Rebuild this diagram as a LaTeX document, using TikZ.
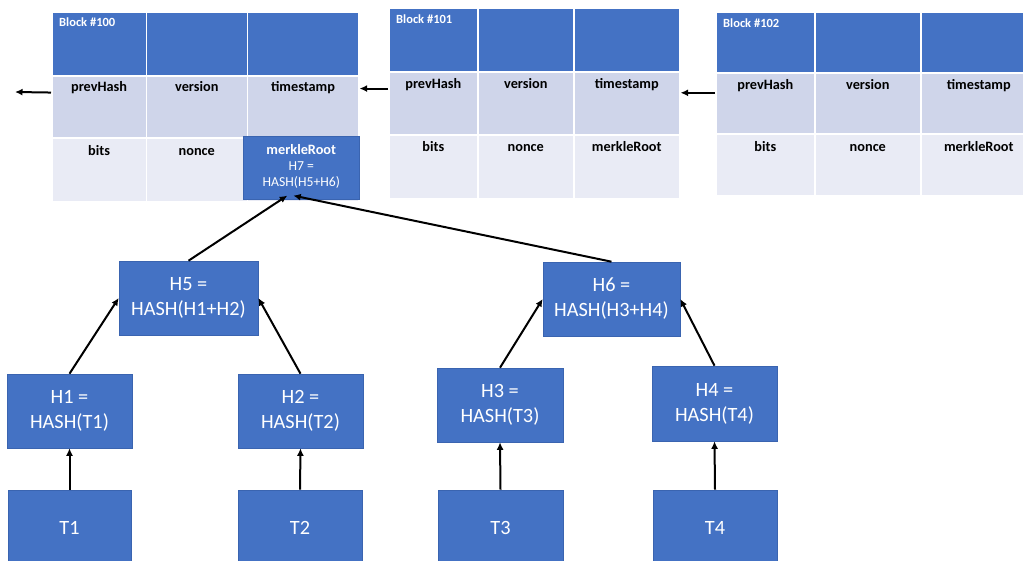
\documentclass[tikz,border=0pt]{standalone}
\usepackage{fontspec}
\setmainfont{Carlito}
\usetikzlibrary{arrows.meta,calc}
\definecolor{hdrblue}{HTML}{4472C4}
\definecolor{rowmid}{HTML}{CFD5EA}
\definecolor{rowlow}{HTML}{E9EBF5}
\definecolor{edgeblue}{HTML}{3A64B0}
\tikzset{
  cell/.style={rectangle, draw=white, line width=1.6pt, inner sep=0pt, anchor=north west},
  hdrcell/.style={cell, fill=hdrblue},
  midcell/.style={cell, fill=rowmid},
  lowcell/.style={cell, fill=rowlow},
  blocklbl/.style={font=\fontsize{12.5}{14}\selectfont\bfseries, text=white, anchor=base west, inner sep=0pt},
  fieldlbl/.style={font=\fontsize{14.3}{16}\selectfont\bfseries, text=black, anchor=base, inner sep=0pt},
  hashbox/.style={rectangle, fill=hdrblue, draw=edgeblue, line width=0.6pt, inner sep=0pt,
    text=white, align=center, font=\fontsize{20.3}{25}\selectfont},
  arr/.style={-{Latex[length=7.5pt,width=7pt]}, line width=2pt, black},
}
% one block header: #1 name prefix, #2..#5 column edges, #6..#9 row edges
\newcommand{\blockgrid}[9]{%
  \node[hdrcell, minimum width=#3-#2, minimum height=#7-#6] (#1h1) at (#2,#6) {};
  \node[hdrcell, minimum width=#4-#3, minimum height=#7-#6] (#1h2) at (#3,#6) {};
  \node[hdrcell, minimum width=#5-#4, minimum height=#7-#6] (#1h3) at (#4,#6) {};
  \node[midcell, minimum width=#3-#2, minimum height=#8-#7] (#1pv) at (#2,#7) {};
  \node[midcell, minimum width=#4-#3, minimum height=#8-#7] (#1ve) at (#3,#7) {};
  \node[midcell, minimum width=#5-#4, minimum height=#8-#7] (#1ts) at (#4,#7) {};
  \node[lowcell, minimum width=#3-#2, minimum height=#9-#8] (#1bi) at (#2,#8) {};
  \node[lowcell, minimum width=#4-#3, minimum height=#9-#8] (#1no) at (#3,#8) {};
  \node[lowcell, minimum width=#5-#4, minimum height=#9-#8] (#1mr) at (#4,#8) {};
  \node[fieldlbl] at ([yshift=-17pt]#1pv.north) {prevHash};
  \node[fieldlbl] at ([yshift=-17pt]#1ve.north) {version};
  \node[fieldlbl] at ([yshift=-17pt]#1ts.north) {timestamp};
  \node[fieldlbl] at ([yshift=-18pt]#1bi.north) {bits};
  \node[fieldlbl] at ([yshift=-18pt]#1no.north) {nonce};
}
\begin{document}
\begin{tikzpicture}[x=1pt,y=-1pt]
\clip (0,0) rectangle (1023,561);
\fill[white] (0,0) rectangle (1023,561);

% ---- block headers ----
\blockgrid{a}{51}{145.5}{246.5}{358}{11}{75}{137.5}{201}
\node[blocklbl] at (59,27) {Block \#100};
\node[rectangle, fill=hdrblue, draw=edgeblue, line width=0.6pt, inner sep=0pt,
  minimum width=116pt, minimum height=63pt, anchor=north west] (root) at (243,136) {};
\node[text=white, align=center, inner sep=0pt, anchor=north,
  font=\fontsize{13.7}{16}\selectfont] at ([yshift=-8pt]root.north)
  {\textbf{\fontsize{14.3}{16}\selectfont merkleRoot}\\H7 =\\HASH(H5+H6)};

\blockgrid{b}{388}{477}{573}{679}{7}{71.5}{134}{198}
\node[blocklbl] at (396,24) {Block \#101};
\node[fieldlbl] at ([yshift=-18pt]bmr.north) {merkleRoot};

\blockgrid{c}{715}{814}{920}{1036}{11}{72.5}{133.5}{195}
\node[blocklbl] at (723,28) {Block \#102};
\node[fieldlbl] at ([yshift=-18pt]cmr.north) {merkleRoot};

% ---- chain links ----
\coordinate (prevA) at (15,92);
\draw[arr] ([yshift=14.5pt]apv.west) -- (prevA);
\draw[arr] ([yshift=15pt]bpv.west) -- ([yshift=15pt]bpv.west -| ats.east);
\draw[arr] ([yshift=11pt]cpv.west) -- ([yshift=11pt]cpv.west -| bts.east);

% ---- merkle tree ----
\node[hashbox, minimum width=139pt, minimum height=74pt] (h5) at (188.5,298) {H5 =\\HASH(H1+H2)};
\node[hashbox, minimum width=137pt, minimum height=74pt] (h6) at (611.5,299) {H6 =\\HASH(H3+H4)};
\node[hashbox, minimum width=125pt, minimum height=74pt] (h1) at (69.5,411) {H1 =\\HASH(T1)};
\node[hashbox, minimum width=125pt, minimum height=74pt] (h2) at (300.5,411) {H2 =\\HASH(T2)};
\node[hashbox, minimum width=126pt, minimum height=74pt] (h3) at (500,405) {H3 =\\HASH(T3)};
\node[hashbox, minimum width=125pt, minimum height=75pt] (h4) at (714.5,403.5) {H4 =\\HASH(T4)};
\node[hashbox, minimum width=123pt, minimum height=76pt] (t1) at (69.5,528) {T1};
\node[hashbox, minimum width=124pt, minimum height=76pt] (t2) at (300,528) {T2};
\node[hashbox, minimum width=125pt, minimum height=76pt] (t3) at (500.5,528) {T3};
\node[hashbox, minimum width=124pt, minimum height=76pt] (t4) at (715,528) {T4};

\draw[arr] (t1.north) -- (h1.south);
\draw[arr] (t2.north) -- (h2.south);
\draw[arr] (t3.north) -- (h3.south);
\draw[arr] (t4.north) -- (h4.south);
\draw[arr] (h1.north) -- (h5.west);
\draw[arr] (h2.north) -- (h5.east);
\draw[arr] (h3.north) -- (h6.west);
\draw[arr] (h4.north) -- (h6.east);
\draw[arr] (h5.north) -- ([xshift=-14pt,yshift=4pt]root.south);
\draw[arr] (h6.north) -- ([xshift=-8pt,yshift=4pt]root.south);
\end{tikzpicture}
\end{document}
